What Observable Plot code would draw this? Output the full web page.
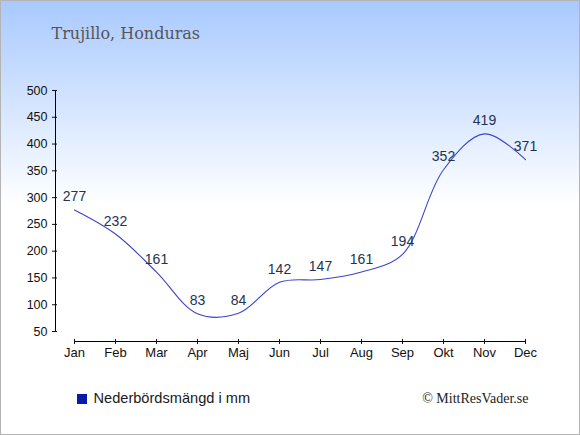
<!DOCTYPE html>
<html><head><meta charset="utf-8">
<script src="https://cdn.jsdelivr.net/npm/d3@7"></script>
<script src="https://cdn.jsdelivr.net/npm/@observablehq/plot@0.6"></script>
<style>
body{margin:0;}
#wrap{position:relative;width:580px;height:435px;overflow:hidden;background:linear-gradient(to bottom,#a8c9ff 0px,#ffffff 205px,#ffffff 435px);}
#wrap svg{position:absolute;left:0;top:0;}
#frame{position:absolute;left:0;top:0;width:580px;height:435px;box-sizing:border-box;border:1px solid #b4b4b4;pointer-events:none;}
#sq{position:absolute;left:77px;top:394px;width:10px;height:10px;background:#0a1aa8;}
</style>
</head><body>
<div id="wrap"><div id="sq"></div><div id="frame"></div></div>
<script>
const months = ["Jan","Feb","Mar","Apr","Maj","Jun","Jul","Aug","Sep","Okt","Nov","Dec"];
const precip = [277,232,161,83,84,142,147,161,194,352,419,371];
const yTicks = [50,100,150,200,250,300,350,400,450,500];
const title = "Trujillo, Honduras";
const legendLabel = "Nederbördsmängd i mm";
const credit = "© MittResVader.se";

const data = months.map((m,i)=>({month:m, value:precip[i]}));

const chart = Plot.plot({
  width:580, height:435,
  marginLeft:74, marginRight:55, marginTop:90, marginBottom:104,
  x:{type:"point", domain:months, padding:0},
  y:{domain:[50,500]},
  style:{background:"transparent", fontFamily:"'Liberation Sans', Arial, sans-serif", fontSize:"13px", color:"#111", overflow:"visible"},
  marks:[
    Plot.ruleX([months[0]], {dx:-19, stroke:"#000"}),
    Plot.axisY({ticks:yTicks, tickSize:5, dx:-17, tickPadding:5, label:null, fontSize:12.5}),
    Plot.ruleY([50], {x1:()=>months[0], x2:()=>months[11], dy:10, stroke:"#000"}),
    Plot.axisX({tickSize:5, dy:8, tickPadding:3, label:null, fontSize:13}),
    Plot.line(data, {x:"month", y:"value", curve:"catmull-rom", stroke:"#3a46c8", strokeWidth:1.1}),
    Plot.text(data, {x:"month", y:"value", text:d=>String(d.value), dy:-13, fill:"#223355", fontSize:14}),
    Plot.text([title], {text:d=>d, frameAnchor:"top-left", dx:51-74, dy:38-90, lineAnchor:"bottom", textAnchor:"start", fontFamily:"'DejaVu Serif', serif", fontSize:16, fill:"#555"}),
    Plot.text([legendLabel], {text:d=>d, frameAnchor:"bottom-left", dx:19, dy:71.5, lineAnchor:"bottom", textAnchor:"start", fontSize:14.6, fill:"#1a1a1a"}),
    Plot.text([credit], {text:d=>d, frameAnchor:"bottom-right", dx:3, dy:71, lineAnchor:"bottom", textAnchor:"end", fontFamily:"'Liberation Serif', 'Times New Roman', serif", fontSize:14, fill:"#222"})
  ]
});
document.getElementById("wrap").insertBefore(chart, document.getElementById("sq"));
</script>
</body></html>
